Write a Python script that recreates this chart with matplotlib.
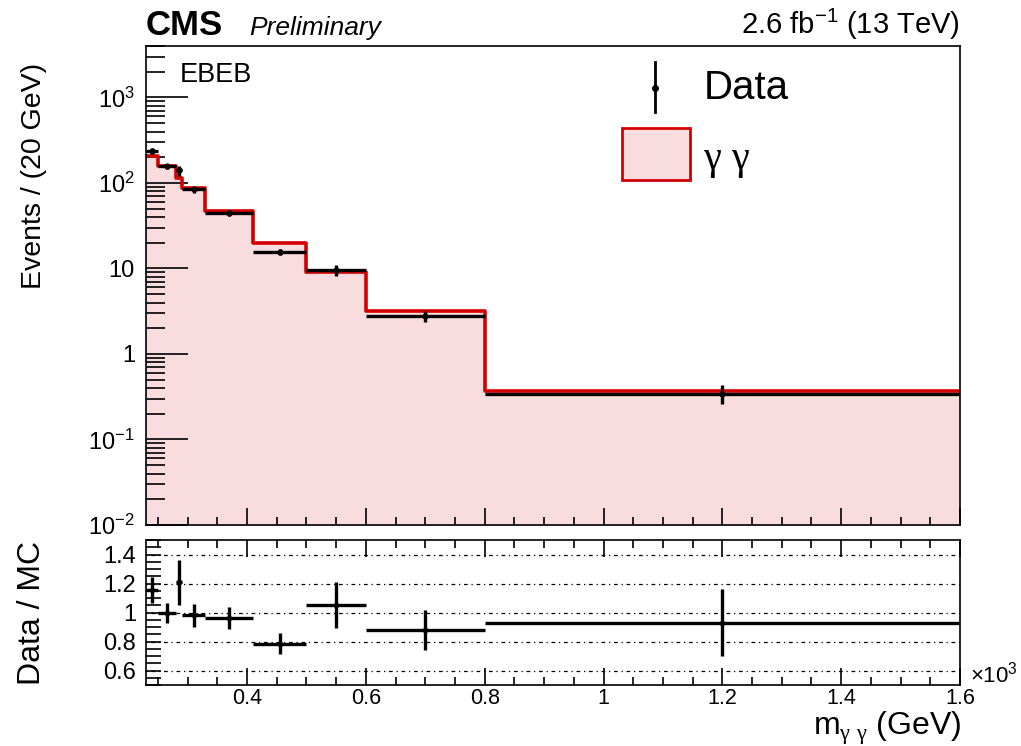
import numpy as np
import matplotlib
matplotlib.use("Agg")
import matplotlib.pyplot as plt
from matplotlib.patches import Rectangle
from matplotlib.lines import Line2D
from matplotlib.ticker import MultipleLocator, FixedLocator, NullFormatter

plt.rcParams['font.family'] = ['Liberation Sans', 'DejaVu Sans']
plt.rcParams['mathtext.fontset'] = 'custom'
plt.rcParams['mathtext.rm'] = 'Liberation Sans'
plt.rcParams['mathtext.it'] = 'Liberation Sans:italic'
plt.rcParams['mathtext.sf'] = 'Liberation Serif'

# ---- data (x in units of 10^3 GeV) ----
bin_edges = [0.23, 0.25, 0.28, 0.29, 0.33, 0.41, 0.50, 0.60, 0.80, 1.60]
mc_values = [207, 158, 115, 87, 47, 20, 9.2, 3.15, 0.37]
data_values = [238, 156, 140, 84, 45, 15.7, 9.6, 2.78, 0.345]
ratio_values = [1.155, 0.995, 1.21, 0.98, 0.96, 0.786, 1.05, 0.88, 0.93]
ratio_errors = [0.09, 0.07, 0.155, 0.08, 0.075, 0.07, 0.16, 0.14, 0.23]
ytick_vals = [1e-2, 1e-1, 1, 10, 1e2, 1e3]
ytick_labels = [r'$10^{-2}$', r'$10^{-1}$', '1', '10', r'$10^{2}$', r'$10^{3}$']
xtick_vals = [0.4, 0.6, 0.8, 1.0, 1.2, 1.4, 1.6]
xtick_labels = ['0.4', '0.6', '0.8', '1', '1.2', '1.4', '1.6']
rtick_vals = [0.6, 0.8, 1.0, 1.2, 1.4]
rtick_labels = ['0.6', '0.8', '1', '1.2', '1.4']

edges = np.array(bin_edges)
centers = 0.5 * (edges[:-1] + edges[1:])
halfw = 0.5 * (edges[1:] - edges[:-1])
mc = np.array(mc_values)
data = np.array(data_values)
ratio = np.array(ratio_values)
rerr = np.array(ratio_errors)
data_err = rerr * mc

fill_col = '#f9dcdd'
red = '#d40000'

fig = plt.figure(figsize=(10.21, 7.46), dpi=100)
ax = fig.add_axes([146/1021, 1-525/746, (960-146)/1021, (525-46)/746])
axr = fig.add_axes([146/1021, 1-685/746, (960-146)/1021, (685-540)/746])

# --- main panel ---
stairs_y = np.append(mc, mc[-1])
ax.fill_between(edges, stairs_y, 1e-3, step='post', color=fill_col, lw=0)
ax.step(edges, stairs_y, where='post', color=red, lw=2.6)
ax.errorbar(centers, data, xerr=halfw, yerr=data_err, fmt='o', color='black',
            ms=3.5, lw=2.4, capsize=0, zorder=5)
ax.set_yscale('log')
ax.set_xlim(0.23, 1.6)
ax.set_ylim(1e-2, 4000)
ax.yaxis.set_major_locator(FixedLocator(ytick_vals))
ax.set_yticklabels(ytick_labels)
minors = [m * 10.0**e for e in range(-2, 4) for m in range(2, 10)]
ax.yaxis.set_minor_locator(FixedLocator(minors))
ax.yaxis.set_minor_formatter(NullFormatter())
ax.xaxis.set_major_locator(FixedLocator(xtick_vals))
ax.xaxis.set_minor_locator(MultipleLocator(0.05))
ax.set_xticklabels([])
ax.tick_params(axis='y', which='major', direction='in', length=30, width=1.2,
               labelsize=17, left=True, right=False, pad=8)
ax.tick_params(axis='y', which='minor', direction='in', length=14, width=1.2,
               left=True, right=False)
ax.tick_params(axis='x', which='major', direction='in', length=12, width=1.2,
               bottom=True, top=False)
ax.tick_params(axis='x', which='minor', direction='in', length=6, width=1.2,
               bottom=True, top=False)
for s in ax.spines.values():
    s.set_linewidth(1.2)
ax.set_ylabel('Events / (20 GeV)', fontsize=20.5)
ax.yaxis.set_label_coords(-0.122, (525-176)/479)

ax.text(0.0, 1.008, 'CMS', transform=ax.transAxes, fontsize=25, fontweight='bold',
        ha='left', va='bottom')
ax.text(0.127, 1.012, 'Preliminary', transform=ax.transAxes, fontsize=19,
        style='italic', ha='left', va='bottom')
ax.text(1.0, 1.008, '2.6 fb$^{\\mathregular{-1}}$ (13 TeV)', transform=ax.transAxes,
        fontsize=21, ha='right', va='bottom')
ax.text(0.042, 0.94, 'EBEB', transform=ax.transAxes, fontsize=19.5, ha='left', va='center')

# legend drawn manually in axes fraction
lx = (655-146)/814
ax.add_line(Line2D([lx, lx], [(525-62)/479, (525-112)/479], transform=ax.transAxes,
                   color='black', lw=2))
ax.plot([lx], [(525-88)/479], 'o', color='black', ms=4, transform=ax.transAxes)
ax.text((704-146)/814, (525-88)/479, 'Data', transform=ax.transAxes, fontsize=29,
        ha='left', va='center')
ax.add_patch(Rectangle(((622-146)/814, (525-180)/479), 68/814, 52/479,
                       transform=ax.transAxes, facecolor=fill_col, edgecolor=red, lw=2))
ax.text((704-146)/814, (525-160)/479, 'γ γ', transform=ax.transAxes,
        fontsize=29, ha='left', va='center', family=['Liberation Serif'])

# --- ratio panel ---
for v in rtick_vals:
    axr.axhline(v, color='black', lw=0.9, ls=(0, (1, 3, 3, 3)))
axr.errorbar(centers, ratio, xerr=halfw, yerr=rerr, fmt='o', color='black',
             ms=3, lw=2.4, capsize=0, zorder=5)
axr.set_xlim(0.23, 1.6)
axr.set_ylim(0.5, 1.5)
axr.xaxis.set_major_locator(FixedLocator(xtick_vals))
axr.set_xticklabels(xtick_labels)
axr.xaxis.set_minor_locator(MultipleLocator(0.05))
axr.yaxis.set_major_locator(FixedLocator(rtick_vals))
axr.set_yticklabels(rtick_labels)
axr.yaxis.set_minor_locator(MultipleLocator(0.05))
axr.tick_params(axis='y', which='major', direction='in', width=1.2, labelsize=17)
axr.tick_params(axis='x', which='major', direction='in', width=1.2, labelsize=15.5)
axr.tick_params(axis='x', which='major', length=12, top=True, bottom=True, pad=2)
axr.tick_params(axis='x', which='minor', direction='in', length=6, width=1.2,
                top=True, bottom=True)
axr.tick_params(axis='y', which='major', length=11, left=True, right=False, pad=7)
axr.tick_params(axis='y', which='minor', direction='in', length=11, width=1.2,
                left=True, right=False)
for s in axr.spines.values():
    s.set_linewidth(1.2)
axr.set_ylabel('Data / MC', fontsize=23)
axr.yaxis.set_label_coords(-0.122, 0.5)
fig.text(961/1021, 1-735/746, 'm$_{\\mathsf{γ\\ γ}}$ (GeV)', fontsize=23,
         ha='right', va='baseline')
axr.text(1.012, -0.02, r'$\times10^{3}$', transform=axr.transAxes, fontsize=16,
         ha='left', va='bottom')

fig.savefig('out.png', dpi=100)
